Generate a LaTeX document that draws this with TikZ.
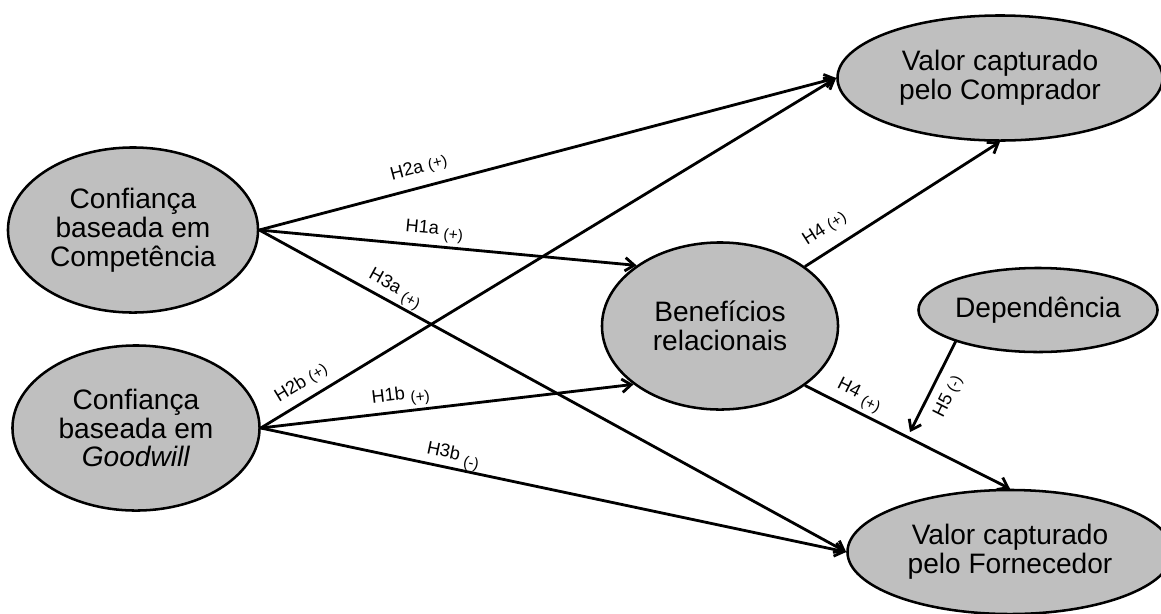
\documentclass[tikz,border=0pt]{standalone}
\usepackage{fontspec}
\setmainfont{Liberation Sans}
\usetikzlibrary{shapes.geometric,arrows.meta,calc}
\definecolor{cinza}{RGB}{191,191,191}
\newcommand{\sinal}[2][0pt]{\raisebox{#1}{\fontsize{11}{12}\selectfont(#2)}}

\begin{document}
\begin{tikzpicture}[x=0.025cm, y=-0.025cm,
    construto/.style={ellipse, draw=black, line width=1.8pt, fill=cinza, inner sep=0pt,
        align=center, font=\fontsize{20}{20.5}\selectfont},
    seta/.style={line width=2pt, -{Straight Barb[length=6.5pt,width=9.5pt]}},
    hip/.style={sloped, font=\fontsize{13}{14}\selectfont, inner sep=1pt}]
    \useasboundingbox (0,0) rectangle (1161,613);
    % construtos
    \node[construto, minimum width=6.25cm, minimum height=4.125cm] (competencia) at (133,230) {Confiança\\baseada em\\Competência};
    \node[construto, minimum width=6.175cm, minimum height=4.125cm] (goodwill) at (136,428) {Confiança\\baseada em\\\textit{Goodwill}};
    \node[construto, minimum width=5.9cm, minimum height=4.175cm] (beneficios) at (720,326) {Benefícios\\relacionais};
    \node[construto, minimum width=5.975cm, minimum height=2.1cm] (dependencia) at (1038,310) {Dependência};
    \node[construto, minimum width=8.125cm, minimum height=3.125cm] (comprador) at (1000,78) {Valor capturado\\pelo Comprador};
    \node[construto, minimum width=8.125cm, minimum height=3.1cm] (fornecedor) at (1010,552) {Valor capturado\\pelo Fornecedor};
    % hipoteses
    \draw[seta] (competencia.east) -- node[hip, pos=.285, above=6pt] {H2a \sinal{+}} (comprador.west);
    \draw[seta] (competencia.east) -- node[hip, pos=.46, above=1.5pt] {H1a \sinal[-3pt]{+}} (beneficios.144);
    \draw[seta] (competencia.east) -- node[hip, pos=.22, above=0pt] {H3a \sinal[-3pt]{+}} (fornecedor.west);
    \draw[seta] (goodwill.east) -- node[hip, pos=.086, above=4.5pt] {H2b \sinal{+}} (comprador.west);
    \draw[seta] (goodwill.east) -- node[hip, pos=.38, above=1pt] {H1b \sinal[-3pt]{+}} (beneficios.214);
    \draw[seta] (goodwill.east) -- node[hip, pos=.324, above=-1.5pt] {H3b \sinal[-4pt]{-}} (fornecedor.west);
    \draw[seta] (beneficios.35) -- node[hip, pos=.16, above=7.5pt] {H4 \sinal{+}} (comprador.south);
    \draw[seta] (beneficios.-35) -- node[hip, pos=.23, above=1.5pt] {H4 \sinal[-3pt]{+}} (fornecedor.north);
    \coordinate (moderacao) at ($(beneficios.-35)!0.5!(fornecedor.north)$);
    \draw[seta, shorten >=4pt] (dependencia.201) -- node[hip, pos=.49, below=5.5pt] {H5 \sinal{-}} (moderacao);
\end{tikzpicture}
\end{document}
